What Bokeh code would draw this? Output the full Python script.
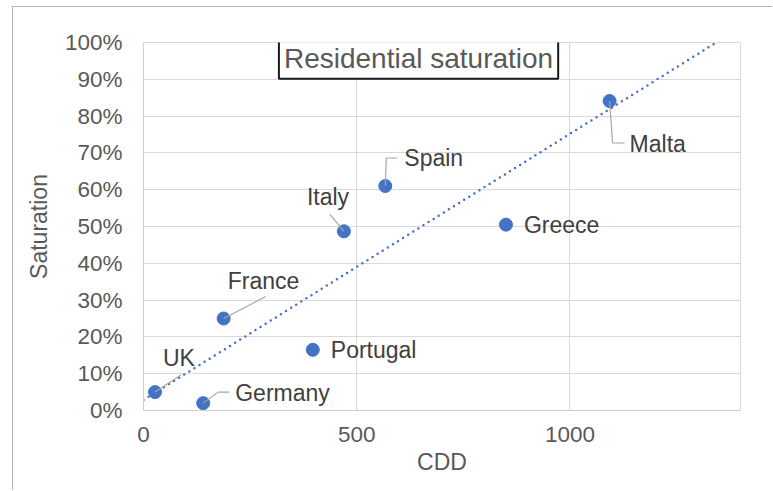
import numpy as np
from bokeh.plotting import figure
from bokeh.models import ColumnDataSource, Label, NumeralTickFormatter, FixedTicker, Range1d
from bokeh.core.properties import value
from bokeh.embed import file_html
from bokeh.resources import INLINE

# ---- data ----
countries = ["UK", "Germany", "France", "Portugal", "Italy", "Spain", "Greece", "Malta"]
cdd = [27, 140, 188, 397, 470, 567, 850, 1093]
saturation = [0.05, 0.02, 0.25, 0.165, 0.487, 0.61, 0.505, 0.841]
x_ticks = [0, 500, 1000]
y_ticks = [0.0, 0.1, 0.2, 0.3, 0.4, 0.5, 0.6, 0.7, 0.8, 0.9, 1.0]
title_text = "Residential saturation"

# ---- label placement (screen px, relative to the point; y down) ----
label_dx = [8, 32, 4, 18, -37, 19, 18, 20]
label_dy = [-34, -10, -38, 0, -34, -28, 0, 43]
# leader polylines (screen px offsets from the point)
leaders = {
    "UK": [(0, 0), (26, -17)],
    "Germany": [(0, 0), (15, -11), (26, -11)],
    "France": [(0, 0), (42, -22)],
    "Italy": [(0, 0), (-14, -17)],
    "Spain": [(0, 0), (1, -28), (12, -28)],
    "Malta": [(0, 0), (3, 42), (15, 42)],
}

FONT = "Liberation Sans"
BLUE = "#4472C4"
X_MAX = 1400
W, H = 760, 484
ML, MR, MT, MB = 130, 33, 35, 81
FW, FH = W - ML - MR, H - MT - MB

p = figure(width=W, height=H, output_backend="svg", toolbar_location=None,
           x_range=Range1d(0, X_MAX), y_range=Range1d(0, 1.0),
           min_border_left=ML, min_border_right=MR, min_border_top=MT, min_border_bottom=MB,
           margin=(6, 0, 0, 12),
           styles={"border-left": "1px solid #b4b4b4", "border-top": "1px solid #b4b4b4"})
p.background_fill_color = "white"
p.border_fill_color = "white"
p.outline_line_color = "#d9d9d9"
p.outline_line_width = 1

p.xaxis.ticker = FixedTicker(ticks=x_ticks)
p.yaxis.ticker = FixedTicker(ticks=y_ticks)
p.yaxis.formatter = NumeralTickFormatter(format="0%")
for ax in (p.xaxis, p.yaxis):
    ax.axis_line_color = "#d0d0d0"
    ax.major_tick_line_color = None
    ax.minor_tick_line_color = None
    ax.major_tick_out = 0
    ax.major_tick_in = 0
    ax.major_label_text_font = FONT
    ax.major_label_text_font_size = "22.5px"
    ax.major_label_text_color = "#595959"
    ax.axis_label_text_font = FONT
    ax.axis_label_text_font_size = "23px"
    ax.axis_label_text_color = "#595959"
    ax.axis_label_text_font_style = "normal"
p.xaxis.axis_label = "CDD"
p.yaxis.axis_label = "Saturation"
p.xaxis.major_label_standoff = 16
p.xaxis.axis_label_standoff = 4
p.yaxis.major_label_standoff = 21
p.yaxis.axis_label_standoff = 10

p.xgrid.ticker = FixedTicker(ticks=x_ticks)
p.ygrid.ticker = FixedTicker(ticks=y_ticks)
p.xgrid.grid_line_color = "#d9d9d9"
p.ygrid.grid_line_color = "#d9d9d9"
p.xgrid.grid_line_width = 1
p.ygrid.grid_line_width = 1

# trendline (linear least squares fit of the data)
slope, intercept = np.polyfit(cdd, saturation, 1)
tx = [0, X_MAX]
ty = [intercept, intercept + slope * X_MAX]
p.line(tx, ty, line_color=BLUE, line_width=2.5, line_dash="0 6", line_cap="round")

src = ColumnDataSource(dict(x=cdd, y=saturation, name=countries, dx=label_dx, dy=label_dy))
p.scatter("x", "y", source=src, size=13, fill_color=BLUE, line_color=BLUE)

# leader lines: convert pixel offsets to data units
px_x = FW / X_MAX
px_y = FH / 1.0
for name, pts in leaders.items():
    i = countries.index(name)
    xs = [cdd[i] + dx / px_x for dx, dy in pts]
    ys = [saturation[i] - dy / px_y for dx, dy in pts]
    p.line(xs, ys, line_color="#a6a6a6", line_width=1.2)

p.text("x", "y", text="name", source=src, x_offset="dx", y_offset="dy",
       text_font=value(FONT), text_font_size="23px", text_color="#404040",
       text_align="left", text_baseline="middle")

title = Label(x=645, y=0.957, text=title_text, text_align="center", text_baseline="middle",
              text_font=FONT, text_font_size="28px", text_color="#595959",
              background_fill_color="white", border_line_color="#1a1a1a", border_line_width=2,
              padding=5)
p.add_layout(title)

open("out.html", "w").write(file_html(p, INLINE))
